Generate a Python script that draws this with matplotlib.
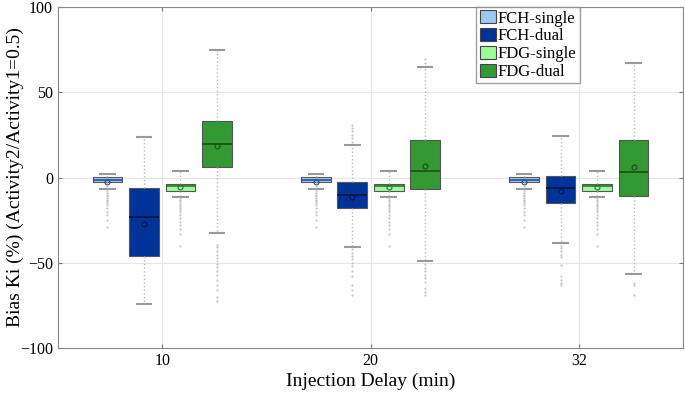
import matplotlib.pyplot as plt
from matplotlib.patches import Patch

plt.rcParams['font.family'] = ['Liberation Serif', 'DejaVu Serif']

delays = ["10", "20", "32"]
series = ["FCH-single", "FCH-dual", "FDG-single", "FDG-dual"]
colors = ["#9CC8F5", "#003399", "#99FF99", "#339933"]
med_colors = ["#2f4f7f", "#001440", "#2f6f2f", "#1a4f1a"]

# box statistics per series, one value per injection delay
q1 = {
    "FCH-single": [-2.6, -2.6, -2.6],
    "FCH-dual": [-46.0, -18.1, -14.8],
    "FDG-single": [-8.1, -8.1, -8.1],
    "FDG-dual": [5.9, -6.6, -10.6],
}
q3 = {
    "FCH-single": [0.1, 0.1, 0.1],
    "FCH-dual": [-6.4, -2.9, 1.0],
    "FDG-single": [-3.8, -3.8, -3.8],
    "FDG-dual": [33.4, 21.8, 22.0],
}
med = {
    "FCH-single": [-1.2, -1.2, -1.2],
    "FCH-dual": [-23.2, -10.5, -6.0],
    "FDG-single": [-4.8, -4.8, -4.8],
    "FDG-dual": [19.8, 4.1, 3.5],
}
mean = {
    "FCH-single": [-2.4, -2.4, -2.4],
    "FCH-dual": [-27.0, -11.7, -7.8],
    "FDG-single": [-5.4, -5.4, -5.4],
    "FDG-dual": [18.3, 6.8, 6.2],
}
whislo = {
    "FCH-single": [-6.7, -6.7, -6.7],
    "FCH-dual": [-74.4, -40.8, -38.5],
    "FDG-single": [-11.3, -11.3, -11.3],
    "FDG-dual": [-32.3, -49.2, -56.5],
}
whishi = {
    "FCH-single": [2.2, 2.2, 2.2],
    "FCH-dual": [23.6, 19.3, 24.4],
    "FDG-single": [4.1, 4.1, 4.1],
    "FDG-dual": [75.0, 64.9, 67.4],
}

fch_single_out = [-8, -9, -10, -11, -12, -13, -14, -15, -16, -18, -20, -22, -25, -29]
fdg_single_out = [-12, -13, -14, -15, -16, -17, -18, -19, -20, -22, -24, -26, -28,
                  -30, -33, -40]
fliers = {
    "FCH-single": [fch_single_out, fch_single_out, fch_single_out],
    "FCH-dual": [
        [],
        [21, 23, 25, 27, 29, 30.5, -42, -44, -46, -48, -50, -52, -55, -58, -63, -66, -69],
        [-39.9, -41.5, -43.4, -45.4, -46.4, -51.2, -57.5, -60, -62, -63.3],
    ],
    "FDG-single": [fdg_single_out, fdg_single_out, fdg_single_out],
    "FDG-dual": [
        [-39.5, -41, -43, -45.5, -47, -49, -51, -52.5, -55, -57, -60, -63, -66, -70, -72.5],
        [67, 69.5, -51, -53, -55, -57, -59, -61, -65, -67, -69],
        [-61.8, -63.3, -69.2],
    ],
}

fig = plt.figure(figsize=(6.85, 3.97), dpi=100)
ax = fig.add_axes([58 / 685, 49 / 397, 625 / 685, 341 / 397])

offsets = [-0.2625, -0.0875, 0.0875, 0.2625]
for k, s in enumerate(series):
    stats = []
    for g in range(len(delays)):
        stats.append(dict(med=med[s][g], q1=q1[s][g], q3=q3[s][g],
                          whislo=whislo[s][g], whishi=whishi[s][g],
                          mean=mean[s][g], fliers=fliers[s][g]))
    pos = [g + 1 + offsets[k] for g in range(len(delays))]
    ax.bxp(stats, positions=pos, widths=0.142, patch_artist=True, showmeans=True,
           boxprops=dict(facecolor=colors[k], edgecolor="#555555", linewidth=0.8),
           medianprops=dict(color=med_colors[k], linewidth=1.2),
           whiskerprops=dict(color="#bbbbbb", linestyle=":", linewidth=1.0),
           capprops=dict(color="#999999", linewidth=1.5),
           capwidths=0.07,
           meanprops=dict(marker="o", markersize=3.5, markerfacecolor="none",
                          markeredgecolor=med_colors[k], markeredgewidth=0.8),
           flierprops=dict(marker=".", markersize=1.0, markerfacecolor="#bbbbbb",
                           markeredgecolor="#bbbbbb", linestyle="none"))

ax.set_xlim(0.5, 3.5)
ax.set_ylim(-100, 100)
ax.set_xticks([1, 2, 3])
ax.set_xticklabels(delays)
ax.set_yticks([-100, -50, 0, 50, 100])
ax.tick_params(axis="both", direction="in", labelsize=11.5, color="#777777",
               top=True, right=True, length=3)
ax.grid(True, color="#e6e6e6", linewidth=0.8)
ax.set_axisbelow(True)
for sp in ax.spines.values():
    sp.set_color("#888888")

ax.set_xlabel("Injection Delay (min)", fontsize=14, labelpad=3)
ax.set_ylabel("Bias Ki (%) (Activity2/Activity1=0.5)", fontsize=14, labelpad=-3)

handles = [Patch(facecolor=c, edgecolor="#444444", linewidth=0.8) for c in colors]
ax.legend(handles, series, loc="upper right", bbox_to_anchor=(0.835, 1.0),
          fontsize=12, frameon=True, fancybox=False, edgecolor="#888888",
          handlelength=1.0, handleheight=0.8, handletextpad=0.1,
          labelspacing=0.1, borderpad=0.2, borderaxespad=0.0)

fig.savefig("out.png", dpi=100)
